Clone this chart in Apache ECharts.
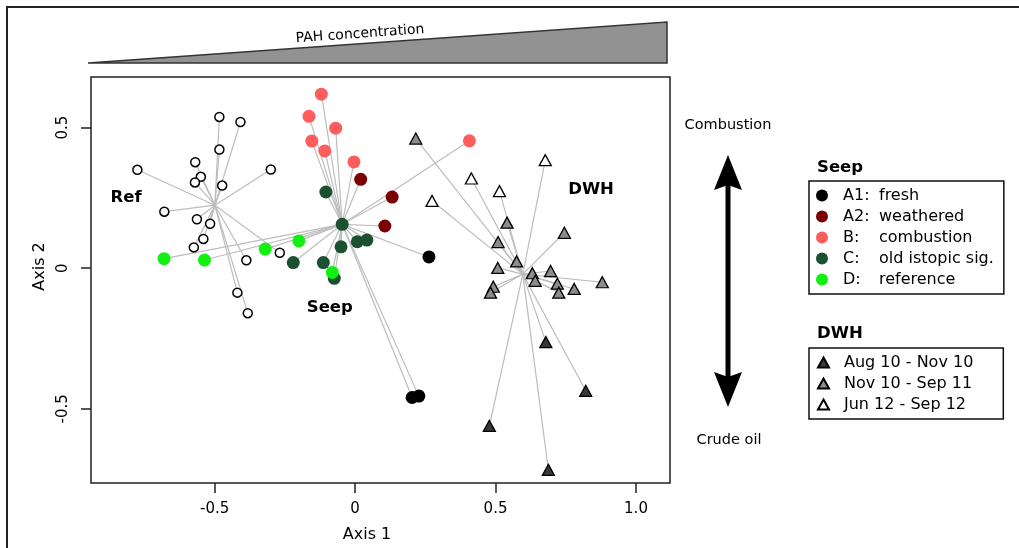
<!DOCTYPE html>
<html>
<head>
<meta charset="utf-8">
<script src="https://cdn.jsdelivr.net/npm/echarts@6/dist/echarts.min.js"></script>
<style>
html,body{margin:0;padding:0;background:#fff}
#chart{width:1019px;height:548px}
</style>
</head>
<body>
<div id="chart"></div>
<script>
// points, [Axis 1, Axis 2]
var refPts = [[-0.483,0.538],[-0.408,0.520],[-0.483,0.422],[-0.569,0.377],[-0.775,0.350],[-0.549,0.325],
  [-0.570,0.305],[-0.473,0.294],[-0.300,0.351],[-0.679,0.201],[-0.563,0.174],[-0.516,0.158],
  [-0.540,0.104],[-0.574,0.074],[-0.268,0.055],[-0.387,0.028],[-0.419,-0.087],[-0.382,-0.160]];
var seepA1 = [[0.263,0.040],[0.203,-0.460],[0.227,-0.455]];
var seepA2 = [[0.020,0.316],[0.132,0.253],[0.106,0.150]];
var seepB = [[-0.120,0.619],[-0.164,0.540],[-0.069,0.498],[-0.154,0.452],[-0.108,0.417],[-0.004,0.378],[0.407,0.453]];
var seepC = [[-0.104,0.271],[-0.046,0.156],[-0.050,0.076],[0.008,0.094],[0.042,0.100],[-0.220,0.020],[-0.113,0.020],[-0.074,-0.036]];
var seepD = [[-0.680,0.034],[-0.536,0.029],[-0.320,0.068],[-0.200,0.097],[-0.081,-0.015]];
var dwhAug = [[0.679,-0.263],[0.821,-0.436],[0.478,-0.561],[0.688,-0.717]];
var dwhNov = [[0.216,0.461],[0.541,0.162],[0.509,0.093],[0.575,0.024],[0.745,0.126],[0.508,0.001],
  [0.631,-0.018],[0.696,-0.010],[0.641,-0.045],[0.720,-0.055],[0.725,-0.087],[0.780,-0.074],
  [0.880,-0.050],[0.492,-0.066],[0.482,-0.087]];
var dwhJun = [[0.677,0.384],[0.414,0.319],[0.514,0.274],[0.274,0.239]];
// spider centres
var hubRef = [-0.499,0.224];
var hubSeep = [-0.046,0.156];
var hubDwh = [0.597,-0.021];
var axisTicks = [-0.5,0,0.5,1.0];
var groupNames = ['Ref','Seep','DWH'];
var groupPos = [[-0.815,0.249],[-0.090,-0.141],[0.840,0.278]];
var seepNames = ['A1: fresh','A2: weathered','B: combustion','C: old istopic sig.','D: reference'];
var dwhNames = ['Aug 10 - Nov 10','Nov 10 - Sep 11','Jun 12 - Sep 12'];

var FONT = 'DejaVu Sans';
var chart = echarts.init(document.getElementById('chart'));

function spokes(hub, pts) {
  return pts.map(function (p) { return {coords: [hub, p]}; });
}
function spokeSeries(data) {
  return {type: 'lines', coordinateSystem: 'cartesian2d', silent: true, z: 1,
    lineStyle: {color: '#bdbdbd', width: 1.2, opacity: 1}, data: data};
}
function dots(name, data, color) {
  return {type: 'scatter', name: name, data: data, symbol: 'circle', symbolSize: 13, z: 3,
    itemStyle: {color: color, opacity: 1}};
}
function tris(name, data, color) {
  return {type: 'scatter', name: name, data: data, symbol: 'triangle', symbolSize: [12, 11], z: 3,
    itemStyle: {color: color, borderColor: '#000', borderWidth: 1.3, opacity: 1}};
}
function tickFmt(v) { return v === 0 ? '0' : v.toFixed(1); }

var allSeep = seepA1.concat(seepA2, seepB, seepC, seepD);
var allDwh = dwhAug.concat(dwhNov, dwhJun);

var option = {
  animation: false,
  backgroundColor: '#fff',
  grid: {left: 91, right: 349, top: 77, bottom: 65, show: true, borderColor: '#222', borderWidth: 1.5},
  xAxis: {
    type: 'value', min: -0.94, max: 1.121,
    axisLine: {show: false, onZero: false}, splitLine: {show: false},
    axisTick: {show: true, length: 10, customValues: axisTicks, lineStyle: {color: '#222', width: 1.5}},
    axisLabel: {customValues: axisTicks, margin: 19, fontFamily: FONT, fontSize: 15, color: '#000', formatter: tickFmt},
    name: 'Axis 1', nameLocation: 'middle', nameGap: 44,
    nameTextStyle: {fontFamily: FONT, fontSize: 16, color: '#000', padding: [0, 27, 0, 0]}
  },
  yAxis: {
    type: 'value', min: -0.764, max: 0.680,
    axisLine: {show: false, onZero: false}, splitLine: {show: false},
    axisTick: {show: true, length: 10, customValues: axisTicks.slice(0, 3), lineStyle: {color: '#222', width: 1.5}},
    axisLabel: {customValues: axisTicks.slice(0, 3), rotate: 90, margin: 20, fontFamily: FONT, fontSize: 15, color: '#000', formatter: tickFmt},
    name: 'Axis 2', nameLocation: 'middle', nameGap: 40, nameRotate: 90,
    nameTextStyle: {fontFamily: FONT, fontSize: 16, color: '#000', padding: [0, 0, 0, 27]}
  },
  legend: [{
    orient: 'vertical', left: 809, top: 181, itemWidth: 12, itemHeight: 12, itemGap: 0,
    padding: [4, 10, 4, 7], borderColor: '#111', borderWidth: 1.5, icon: 'circle',
    selectedMode: false, data: seepNames,
    textStyle: {fontFamily: FONT, fontSize: 16, color: '#000', lineHeight: 21, padding: [0, 0, 0, 10],
      rich: {a: {width: 36, fontFamily: FONT, fontSize: 16, lineHeight: 21, color: '#000'},
             b: {fontFamily: FONT, fontSize: 16, lineHeight: 21, color: '#000'}}},
    formatter: function (n) {
      var i = n.indexOf(':');
      return '{a|' + n.slice(0, i + 1) + '}{b|' + n.slice(i + 2) + '}';
    }
  }, {
    orient: 'vertical', left: 809, top: 348, itemWidth: 11, itemHeight: 10, itemGap: 0,
    padding: [4, 30, 4, 8], borderColor: '#111', borderWidth: 1.5, icon: 'triangle',
    selectedMode: false, data: dwhNames,
    textStyle: {fontFamily: FONT, fontSize: 16, color: '#000', lineHeight: 21, padding: [0, 0, 0, 10]}
  }],
  graphic: [
    {type: 'polyline', shape: {points: [[7, 548], [7, 7], [1019, 7]]}, style: {stroke: '#222', lineWidth: 2, fill: null}},
    {type: 'polygon', shape: {points: [[88, 63], [667, 22], [667, 63]]}, style: {fill: '#929292', stroke: '#333', lineWidth: 1.5}},
    {type: 'text', x: 360, y: 34, rotation: 0.0707,
      style: {text: 'PAH concentration', font: '14px "DejaVu Sans"', fill: '#000', align: 'center', verticalAlign: 'middle'}},
    {type: 'text', x: 728, y: 125,
      style: {text: 'Combustion', font: '14.5px "DejaVu Sans"', fill: '#000', align: 'center', verticalAlign: 'middle'}},
    {type: 'text', x: 729, y: 440,
      style: {text: 'Crude oil', font: '14.5px "DejaVu Sans"', fill: '#000', align: 'center', verticalAlign: 'middle'}},
    {type: 'line', shape: {x1: 728, y1: 180, x2: 728, y2: 382}, style: {stroke: '#000', lineWidth: 5}},
    {type: 'polygon', shape: {points: [[728, 155], [742, 190], [728, 185], [714, 190]]}, style: {fill: '#000'}},
    {type: 'polygon', shape: {points: [[728, 407], [742, 372], [728, 377], [714, 372]]}, style: {fill: '#000'}},
    {type: 'text', x: 817, y: 168,
      style: {text: 'Seep', font: 'bold 16.5px "DejaVu Sans"', fill: '#000', align: 'left', verticalAlign: 'middle'}},
    {type: 'text', x: 817, y: 334,
      style: {text: 'DWH', font: 'bold 16.5px "DejaVu Sans"', fill: '#000', align: 'left', verticalAlign: 'middle'}}
  ],
  series: [
    spokeSeries(spokes(hubRef, refPts)),
    spokeSeries(spokes(hubSeep, allSeep)),
    spokeSeries(spokes(hubDwh, allDwh)),
    {type: 'scatter', name: 'Ref', data: refPts, symbol: 'circle', symbolSize: 9, z: 3,
      itemStyle: {color: '#fff', borderColor: '#000', borderWidth: 1.5, opacity: 1}},
    dots(seepNames[0], seepA1, '#000000'),
    dots(seepNames[1], seepA2, '#7a0000'),
    dots(seepNames[2], seepB, '#ff5c5c'),
    dots(seepNames[3], seepC, '#1b5030'),
    dots(seepNames[4], seepD, '#12f012'),
    tris(dwhNames[0], dwhAug, '#383838'),
    tris(dwhNames[1], dwhNov, '#8c8c8c'),
    tris(dwhNames[2], dwhJun, '#ffffff'),
    {type: 'scatter', silent: true, z: 4, symbolSize: 0, itemStyle: {opacity: 1},
      data: groupPos.map(function (p, i) { return {value: p, name: groupNames[i]}; }),
      label: {show: true, position: 'inside', formatter: '{b}', fontFamily: FONT, fontWeight: 'bold',
        fontSize: 16.5, color: '#000', opacity: 1}}
  ]
};
chart.setOption(option);
</script>
</body>
</html>
